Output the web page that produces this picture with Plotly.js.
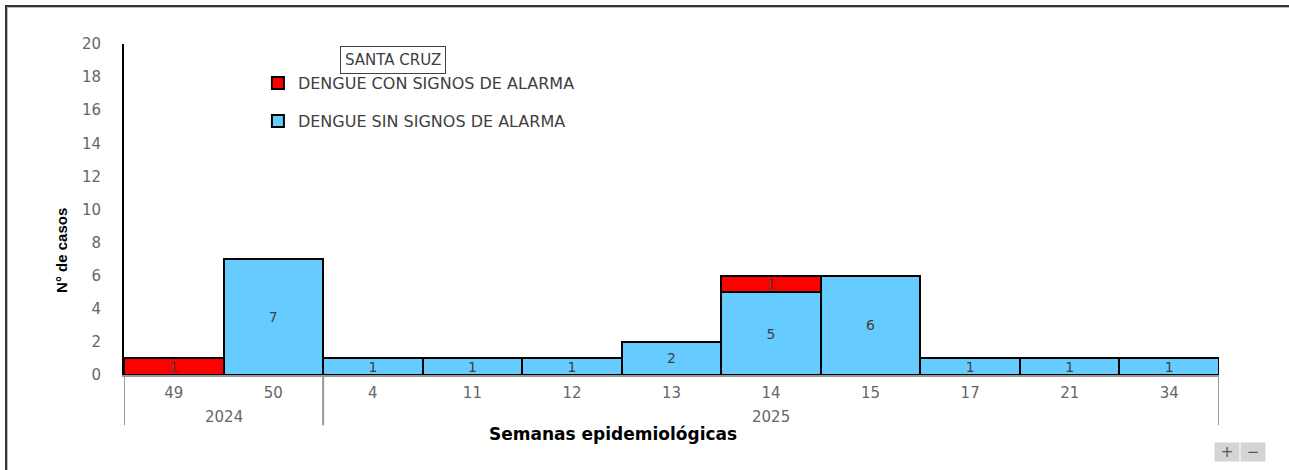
<!DOCTYPE html>
<html>
<head>
<meta charset="utf-8">
<script src="https://cdn.plot.ly/plotly-3.0.1.min.js"></script>
<style>
  html, body { margin: 0; padding: 0; background: #fff; }
  #wrap { position: relative; width: 1289px; height: 470px; overflow: hidden; }
  #chart { width: 1289px; height: 470px; }
  #frame { position: absolute; left: 5px; top: 5px; width: 1300px; height: 480px;
           border-top: 2px solid #333; border-left: 2px solid #333;
           box-shadow: inset 1px 1px 0 #bbb; pointer-events: none; }
</style>
</head>
<body>
<div id="wrap">
  <div id="chart"></div>
  <div id="frame"></div>
</div>
<script>
// ---- data ----
const weeks = ['49', '50', '4', '11', '12', '13', '14', '15', '17', '21', '34'];
const years = ['2024', '2024', '2025', '2025', '2025', '2025', '2025', '2025', '2025', '2025', '2025'];
const sinSignos = [0, 7, 1, 1, 1, 2, 5, 6, 1, 1, 1];
const conSignos = [1, 0, 0, 0, 0, 0, 1, 0, 0, 0, 0];
const seriesNames = ['DENGUE SIN SIGNOS DE ALARMA', 'DENGUE CON SIGNOS DE ALARMA'];
const chartTitle = 'SANTA CRUZ';
const xTitle = 'Semanas epidemiológicas';
const yTitle = 'N° de casos';
const yTickVals = [0, 2, 4, 6, 8, 10, 12, 14, 16, 18, 20];

const idx = weeks.map((w, i) => i);
const txt = arr => arr.map(v => v ? String(v) : '');

const traces = [
  {
    type: 'bar', name: seriesNames[0], x: idx, y: sinSignos,
    text: txt(sinSignos), textposition: 'inside', insidetextanchor: 'middle',
    constraintext: 'none', textangle: 0,
    textfont: { family: 'DejaVu Sans', size: 14, color: '#404040' },
    marker: { color: '#66CCFF', line: { color: '#000', width: 2 } },
    legendgroup: 'a', legendrank: 2, hoverinfo: 'y'
  },
  {
    type: 'bar', name: seriesNames[1], x: idx, y: conSignos,
    text: txt(conSignos), textposition: 'inside', insidetextanchor: 'middle',
    constraintext: 'none', textangle: 0,
    textfont: { family: 'DejaVu Sans', size: 14, color: '#404040' },
    marker: { color: '#FF0000', line: { color: '#000', width: 2 } },
    legendgroup: 'b', legendrank: 1, hoverinfo: 'y'
  }
];

// year groups -> dividers and labels
const groups = [];
years.forEach((y, i) => {
  if (!groups.length || groups[groups.length - 1].year !== y) groups.push({ year: y, start: i, end: i });
  else groups[groups.length - 1].end = i;
});

const shapes = [];
const annotations = [];
const divX = [groups[0].start - 0.5].concat(groups.map(g => g.end + 0.5));
divX.forEach(xv => shapes.push({
  type: 'line', xref: 'x', yref: 'paper', x0: xv, x1: xv, y0: 0, y1: -0.152,
  line: { color: '#999', width: 2 }
}));
groups.forEach(g => annotations.push({
  xref: 'x', yref: 'paper', x: (g.start + g.end) / 2, y: -0.127, yanchor: 'middle',
  text: g.year, showarrow: false,
  font: { family: 'DejaVu Sans', size: 15, color: '#666' }
}));

annotations.push({
  xref: 'paper', yref: 'paper', x: 0.246, y: 0.952, xanchor: 'center', yanchor: 'middle',
  text: chartTitle, showarrow: false, bordercolor: '#404040', borderwidth: 1, borderpad: 4,
  font: { family: 'DejaVu Sans', size: 15, color: '#404040' }
});
annotations.push({
  xref: 'paper', yref: 'paper', x: 0.4466, y: -0.178, xanchor: 'center', yanchor: 'middle',
  text: '<b>' + xTitle + '</b>', showarrow: false,
  font: { family: 'DejaVu Sans', size: 17, color: '#000' }
});
annotations.push({
  xref: 'paper', yref: 'paper', x: -0.0566, y: 0.375, xanchor: 'center', yanchor: 'middle',
  text: '<b>' + yTitle + '</b>', showarrow: false, textangle: -90,
  font: { family: 'Liberation Sans', size: 15, color: '#000' }
});
// zoom buttons look
annotations.push({
  xref: 'paper', yref: 'paper', x: 1.0073, y: -0.2326, xanchor: 'center', yanchor: 'middle',
  text: '+', showarrow: false, bgcolor: '#d4d4d4', width: 22, height: 16,
  font: { family: 'DejaVu Sans', size: 15, color: '#555' }
});
annotations.push({
  xref: 'paper', yref: 'paper', x: 1.0315, y: -0.2326, xanchor: 'center', yanchor: 'middle',
  text: '−', showarrow: false, bgcolor: '#d4d4d4', width: 22, height: 16,
  font: { family: 'DejaVu Sans', size: 15, color: '#555' }
});

const layout = {
  width: 1289, height: 470,
  margin: { l: 124, r: 70, t: 44, b: 95 },
  paper_bgcolor: '#fff', plot_bgcolor: '#fff',
  barmode: 'stack', bargap: 0,
  showlegend: true,
  legend: {
    x: 0.1223, y: 0.933, xanchor: 'left', yanchor: 'top',
    traceorder: 'grouped', tracegroupgap: 14,
    font: { family: 'DejaVu Sans', size: 16, color: '#404040' },
    bgcolor: 'rgba(0,0,0,0)', itemwidth: 30
  },
  xaxis: {
    type: 'linear', range: [-0.5, weeks.length - 0.5],
    tickmode: 'array', tickvals: idx, ticktext: weeks,
    showgrid: false, zeroline: false, showline: true, linecolor: '#999', linewidth: 2,
    ticks: '', ticklabelstandoff: 3,
    tickfont: { family: 'DejaVu Sans', size: 15, color: '#666' },
    fixedrange: true
  },
  yaxis: {
    range: [0, 20], tickmode: 'array', tickvals: yTickVals,
    showgrid: false, zeroline: false, showline: true, linecolor: '#000', linewidth: 2,
    ticks: '', ticklabelstandoff: 18,
    tickfont: { family: 'DejaVu Sans', size: 15, color: '#666' },
    fixedrange: true
  },
  shapes: shapes,
  annotations: annotations
};

Plotly.newPlot('chart', traces, layout, { displayModeBar: false, staticPlot: true });
</script>
</body>
</html>
